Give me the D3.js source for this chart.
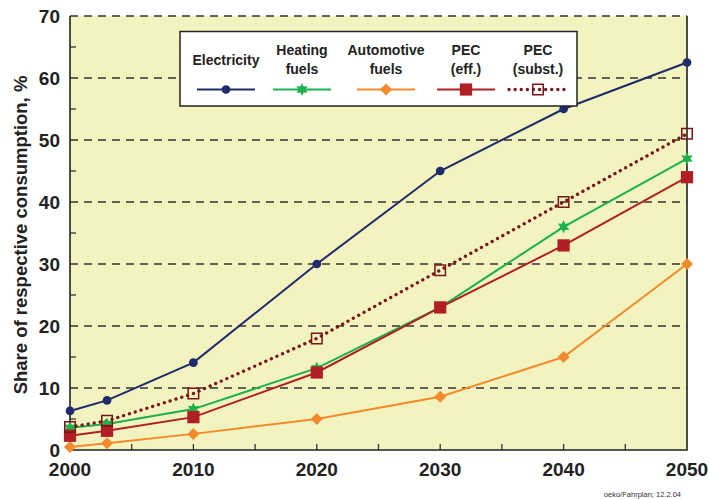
<!DOCTYPE html>
<html><head><meta charset="utf-8">
<script src="https://cdn.jsdelivr.net/npm/d3@7"></script>
<style>body{margin:0;background:#fff;}svg{display:block;font-family:"Liberation Sans",Arial,sans-serif;}</style>
</head><body>
<svg id="c" width="709" height="499"></svg>
<script>
const years = [2000, 2003, 2010, 2020, 2030, 2040, 2050];
const electricity = [6.3, 8, 14.1, 30, 45, 55, 62.5];
const heatingFuels = [3.6, 4.2, 6.6, 13.2, 23, 36, 47];
const automotiveFuels = [0.5, 1.1, 2.6, 5, 8.6, 15, 30];
const pecEff = [2.3, 3.1, 5.3, 12.5, 23, 33, 44];
const pecSubst = [3.7, 4.7, 9.1, 18, 29, 40, 51];
const seriesNames = [["Electricity"], ["Heating", "fuels"], ["Automotive", "fuels"], ["PEC", "(eff.)"], ["PEC", "(subst.)"]];
const xTicks = [2000, 2010, 2020, 2030, 2040, 2050];
const yTicks = [0, 10, 20, 30, 40, 50, 60, 70];
const yTitle = "Share of respective consumption, %";
const footer = "oeko/Fahrplan; 12.2.04";

const svg = d3.select("#c");
const L = 70, R = 687, T = 16, B = 450;
const x = d3.scaleLinear().domain([2000, 2050]).range([L, R]);
const y = d3.scaleLinear().domain([0, 70]).range([B, T]);

svg.append("rect").attr("x", L).attr("y", T).attr("width", R - L).attr("height", B - T).attr("fill", "#F3F3BF");

// dashed gridlines
svg.append("g").selectAll("line").data(yTicks.filter(d => d > 0)).join("line")
  .attr("x1", L).attr("x2", R).attr("y1", d => y(d)).attr("y2", d => y(d))
  .attr("stroke", "#333").attr("stroke-width", 1.3).attr("stroke-dasharray", "8,6");

// minor ticks
svg.append("g").selectAll("line").data(d3.range(5, 70, 10)).join("line")
  .attr("x1", L).attr("x2", L + 6).attr("y1", d => y(d)).attr("y2", d => y(d))
  .attr("stroke", "#333").attr("stroke-width", 1.3);
svg.append("g").selectAll("line").data(d3.range(2005, 2050, 5)).join("line")
  .attr("x1", d => x(d)).attr("x2", d => x(d)).attr("y1", B).attr("y2", B - 6)
  .attr("stroke", "#333").attr("stroke-width", 1.3);

// frame
svg.append("path").attr("d", `M${L},${T}V${B}H${R}V${T}`).attr("fill", "none").attr("stroke", "#222").attr("stroke-width", 1.6);

// axis labels
svg.append("g").selectAll("text").data(yTicks).join("text")
  .attr("x", 60).attr("y", d => y(d)).attr("dy", "0.36em").attr("text-anchor", "end")
  .attr("font-size", 19).attr("font-weight", "bold").attr("fill", "#222").text(d => d);
svg.append("g").selectAll("text").data(xTicks).join("text")
  .attr("x", d => x(d)).attr("y", 476).attr("text-anchor", "middle")
  .attr("font-size", 19).attr("font-weight", "bold").attr("fill", "#222").text(d => d);
svg.append("text").attr("transform", `translate(27,${(T + B) / 2 + 2}) rotate(-90)`).attr("text-anchor", "middle")
  .attr("font-size", 18.5).attr("font-weight", "bold").attr("fill", "#222").text(yTitle);
svg.append("text").attr("x", 681).attr("y", 497).attr("text-anchor", "end").attr("font-size", 7.5).attr("fill", "#333").text(footer);

// symbols
const star6 = (() => {
  const pts = d3.range(12).map(i => { const a = i * Math.PI / 6; const r = i % 2 ? 3.4 : 6.5; return [r * Math.sin(a), -r * Math.cos(a)]; });
  return "M" + pts.map(p => p.join(",")).join("L") + "Z";
})();
const diamond = "M0,-6L6,0L0,6L-6,0Z";
const styles = [
  {vals: electricity, color: "#1E2A6A", dash: null, width: 2, sym: d3.symbol(d3.symbolCircle, 60)(), fill: "#1E2A6A", sw: 0},
  {vals: heatingFuels, color: "#1BB14B", dash: null, width: 2, sym: star6, fill: "#1BB14B", sw: 0},
  {vals: automotiveFuels, color: "#F58A2C", dash: null, width: 2, sym: diamond, fill: "#F58A2C", sw: 0},
  {vals: pecEff, color: "#B01F24", dash: null, width: 2, sym: d3.symbol(d3.symbolSquare, 150)(), fill: "#B01F24", sw: 0},
  {vals: pecSubst, color: "#7A1518", dash: "0.1,6", width: 3.3, sym: d3.symbol(d3.symbolSquare, 110)(), fill: "none", sw: 1.5}
];
const line = d3.line().x((d, i) => x(years[i])).y(d => y(d));
styles.forEach(s => {
  svg.append("path").datum(s.vals).attr("d", line).attr("fill", "none").attr("stroke", s.color)
    .attr("stroke-width", s.width).attr("stroke-dasharray", s.dash).attr("stroke-linecap", s.dash ? "round" : null);
});
styles.forEach(s => {
  svg.append("g").selectAll("path").data(s.vals).join("path")
    .attr("transform", (d, i) => `translate(${x(years[i])},${y(d)})`).attr("d", s.sym)
    .attr("fill", s.fill).attr("stroke", s.sw ? s.color : null).attr("stroke-width", s.sw);
});

// legend
const lg = svg.append("g");
lg.append("rect").attr("x", 180).attr("y", 31.5).attr("width", 397).attr("height", 74.5).attr("fill", "#fff").attr("stroke", "#222").attr("stroke-width", 1.5);
const centers = [226, 302, 386, 466, 538];
styles.forEach((s, k) => {
  const cx = centers[k];
  const names = seriesNames[k];
  names.forEach((t, j) => {
    lg.append("text").attr("x", cx).attr("y", names.length === 1 ? 64.5 : 54.5 + j * 19).attr("text-anchor", "middle")
      .attr("font-size", 14).attr("font-weight", "bold").attr("fill", "#222").text(t);
  });
  lg.append("line").attr("x1", cx - 29).attr("x2", cx + 29).attr("y1", 89.5).attr("y2", 89.5)
    .attr("stroke", s.color).attr("stroke-width", s.width).attr("stroke-dasharray", s.dash).attr("stroke-linecap", s.dash ? "round" : null);
  lg.append("path").attr("transform", `translate(${cx},89.5)`).attr("d", s.sym)
    .attr("fill", s.fill).attr("stroke", s.sw ? s.color : null).attr("stroke-width", s.sw);
});
</script>
</body></html>
